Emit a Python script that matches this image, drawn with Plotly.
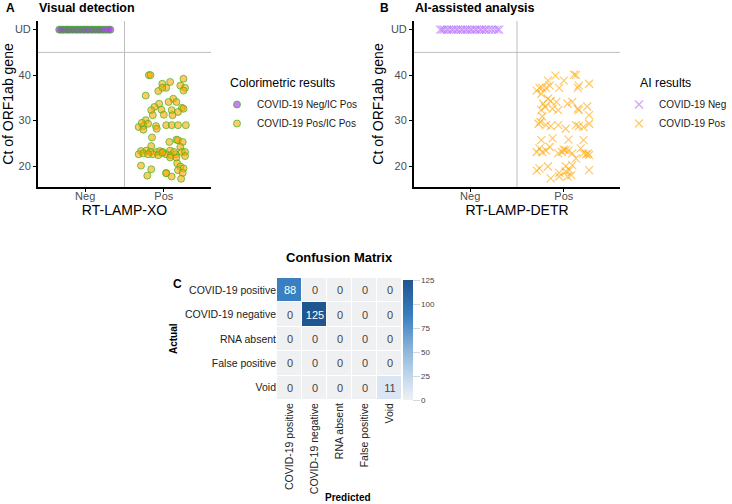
import plotly.graph_objects as go

FONT = "Liberation Sans, Arial, sans-serif"

# ---------------- Data ----------------
x_categories = ["Neg", "Pos"]
y_tick_values = [20, 30, 40, 50]
y_tick_labels = ["20", "30", "40", "UD"]
UD_VALUE = 50
CT_CUTOFF = 45
GROUP_SPLIT = 1.5

# Panel A - visual detection (jittered x, Ct values)
a_neg_x = [0.67, 0.69, 0.71, 0.73, 0.76, 0.78, 0.80, 0.83, 0.85, 0.88, 0.90, 0.93, 0.95,
           0.98, 1.00, 1.03, 1.05, 1.08, 1.10, 1.13, 1.16, 1.18, 1.21, 1.24, 1.27, 1.30, 1.32]
a_neg_y = [UD_VALUE] * len(a_neg_x)
a_pos_x = [1.81, 1.83, 2.25, 2.08, 1.98, 2.03, 1.98, 2.21, 2.27, 2.25, 1.93, 1.77, 2.12, 2.06,
           2.16, 1.94, 1.88, 1.97, 1.84, 2.23, 2.25, 2.10, 2.18, 2.00, 2.11, 1.86, 1.77, 1.68,
           1.74, 1.80, 1.90, 2.03, 2.10, 2.18, 2.28, 1.74, 1.91, 1.85, 2.07, 2.16, 2.18, 2.24,
           1.84, 2.21, 1.71, 1.78, 1.83, 1.91, 1.95, 1.99, 2.08, 1.68, 1.74, 1.86, 2.03, 2.09,
           2.15, 2.23, 2.27, 2.08, 2.16, 2.27, 1.71, 2.17, 2.21, 2.25, 2.18, 1.84, 2.03, 2.03,
           2.24, 1.79, 2.10, 2.22, 1.80, 1.93, 2.13, 1.72, 1.98]
a_pos_y = [40.0, 40.0, 39.2, 38.5, 38.1, 37.2, 37.2, 37.7, 37.2, 36.6, 36.5, 35.5, 34.8, 34.1,
           34.1, 33.7, 33.0, 32.4, 32.3, 32.8, 32.6, 32.3, 31.9, 31.3, 31.2, 31.2, 30.1, 28.6,
           28.8, 29.3, 28.8, 29.0, 29.0, 29.0, 29.0, 28.0, 28.2, 26.3, 25.3, 25.8, 25.7, 25.3,
           24.4, 24.2, 23.3, 23.4, 23.1, 23.1, 23.3, 23.1, 23.4, 22.6, 22.8, 22.6, 22.6, 22.4,
           22.6, 23.1, 23.1, 21.9, 21.9, 22.2, 20.1, 20.6, 19.9, 19.5, 19.1, 19.3, 18.5, 18.4,
           18.5, 17.9, 17.7, 17.2, 22.6, 22.4, 23.1, 29.5, 22.9]

# Panel B - AI-assisted analysis
b_neg_x = [0.68, 0.70, 0.72, 0.75, 0.77, 0.80, 0.82, 0.85, 0.87, 0.90, 0.92, 0.95, 0.97,
           1.00, 1.02, 1.05, 1.07, 1.10, 1.12, 1.15, 1.17, 1.20, 1.23, 1.26, 1.29, 1.31]
b_neg_y = [UD_VALUE] * len(b_neg_x)
b_pos_x = [1.71, 1.74, 1.77, 1.81, 1.83, 1.85, 1.91, 1.95, 2.00, 2.11, 2.13, 2.27, 2.16, 2.15,
           1.76, 1.83, 1.86, 1.92, 2.04, 2.09, 1.78, 1.80, 1.88, 1.94, 2.15, 2.16, 2.25, 1.76,
           1.77, 2.27, 1.75, 1.73, 1.81, 1.86, 1.94, 2.02, 2.13, 2.16, 2.21, 2.27, 1.76, 1.88,
           2.05, 2.21, 1.74, 1.77, 1.71, 1.81, 1.85, 1.94, 1.98, 2.00, 2.02, 2.05, 2.09, 2.18,
           2.21, 2.24, 2.26, 2.27, 2.13, 1.83, 1.74, 1.71, 1.95, 2.02, 2.06, 2.08, 2.04, 2.09,
           1.86, 2.27, 1.95, 2.02]
b_pos_y = [36.6, 37.2, 37.2, 37.2, 38.8, 37.7, 39.9, 37.2, 38.8, 40.1, 40.0, 38.1, 37.7, 37.2,
           35.9, 34.8, 34.3, 34.1, 33.7, 34.1, 33.7, 33.0, 32.6, 32.3, 32.6, 32.3, 33.1, 32.3,
           30.9, 31.2, 29.7, 29.3, 29.0, 28.8, 29.0, 28.2, 29.0, 28.8, 28.6, 29.3, 25.7, 26.1,
           25.8, 25.7, 23.9, 23.1, 23.1, 23.4, 24.2, 22.8, 23.1, 23.6, 23.5, 23.4, 22.8, 23.9,
           22.8, 22.6, 22.8, 22.4, 21.7, 19.9, 19.5, 19.0, 18.5, 18.8, 19.1, 18.0, 17.7, 20.2,
           17.3, 19.1, 17.7, 20.0]

# Panel C - confusion matrix
cm_labels = ["COVID-19 positive", "COVID-19 negative", "RNA absent", "False positive", "Void"]
cm_values = [
    [88, 0, 0, 0, 0],
    [0, 125, 0, 0, 0],
    [0, 0, 0, 0, 0],
    [0, 0, 0, 0, 0],
    [0, 0, 0, 0, 11],
]
cbar_ticks = [0, 25, 50, 75, 100, 125]

# ---------------- Figure ----------------
W, H = 732, 504
def px(x):
    return x / W
def py(y):
    return 1 - y / H

fig = go.Figure()

NEG_A = dict(color="rgba(170,60,240,0.65)", size=7, line=dict(color="rgba(60,180,30,0.7)", width=1))
POS_A = dict(color="rgba(255,165,0,0.6)", size=7, line=dict(color="rgba(60,180,30,0.7)", width=1))

fig.add_trace(go.Scatter(x=a_neg_x, y=a_neg_y, mode="markers", marker=NEG_A,
                         name="COVID-19 Neg/IC Pos", xaxis="x", yaxis="y", legend="legend"))
fig.add_trace(go.Scatter(x=a_pos_x, y=a_pos_y, mode="markers", marker=POS_A,
                         name="COVID-19 Pos/IC Pos", xaxis="x", yaxis="y", legend="legend"))

fig.add_trace(go.Scatter(x=b_neg_x, y=b_neg_y, mode="markers",
                         marker=dict(symbol="x-thin", size=8, line=dict(color="rgba(178,102,255,0.6)", width=1.2)),
                         name="COVID-19 Neg", xaxis="x2", yaxis="y2", legend="legend2"))
fig.add_trace(go.Scatter(x=b_pos_x, y=b_pos_y, mode="markers",
                         marker=dict(symbol="x-thin", size=8, line=dict(color="rgba(255,165,0,0.6)", width=1.2)),
                         name="COVID-19 Pos", xaxis="x2", yaxis="y2", legend="legend2"))

blues = [[0.0, "#eff0f2"], [0.1, "#d8e4f3"], [0.4, "#8fb9dc"], [0.7, "#3a80c0"], [1.0, "#1f5690"]]
fig.add_trace(go.Heatmap(z=cm_values, x=cm_labels, y=cm_labels, colorscale=blues,
                         zmin=0, zmax=125, xgap=1, ygap=1, texttemplate="%{z}",
                         textfont=dict(size=11, family=FONT), showlegend=False,
                         xaxis="x3", yaxis="y3",
                         colorbar=dict(x=px(403), xanchor="left", xpad=0, ypad=0, thickness=10,
                                       lenmode="pixels", len=120, y=py(400), yanchor="bottom",
                                       outlinewidth=0, tickvals=cbar_ticks, ticks="outside", ticklen=7,
                                       tickcolor="#cfd8e3", tickfont=dict(size=8, color="#444", family=FONT))))

axis_common = dict(showgrid=False, zeroline=False, showline=True, linecolor="black", linewidth=2,
                   ticks="outside", ticklen=3, tickcolor="black", tickwidth=1,
                   tickfont=dict(size=11, color="#4d4d4d", family=FONT))

LEG_FONT = dict(size=10, color="#1a1a1a")

fig.update_layout(
    width=W, height=H, margin=dict(l=0, r=0, t=0, b=0, autoexpand=False),
    paper_bgcolor="white", plot_bgcolor="white",
    font=dict(family=FONT, color="black"),
    xaxis=dict(domain=[px(38), px(211)], range=[0.4, 2.6], tickvals=[1, 2], ticktext=x_categories,
               anchor="y", ticklabelstandoff=-5,
               title=dict(text="RT-LAMP-XO", font=dict(size=14), standoff=0), **axis_common),
    yaxis=dict(domain=[py(187), py(21)], range=[15.4, 51.9], tickvals=y_tick_values, ticktext=y_tick_labels,
               anchor="x", title=dict(text="Ct of ORF1ab gene", font=dict(size=14), standoff=4), **axis_common),
    xaxis2=dict(domain=[px(414), px(620)], range=[0.4, 2.6], tickvals=[1, 2], ticktext=x_categories,
                anchor="y2", ticklabelstandoff=-5,
                title=dict(text="RT-LAMP-DETR", font=dict(size=14), standoff=0), **axis_common),
    yaxis2=dict(domain=[py(187), py(21)], range=[15.4, 51.9], tickvals=y_tick_values, ticktext=y_tick_labels,
                anchor="x2", title=dict(text="Ct of ORF1ab gene", font=dict(size=14), standoff=4), **axis_common),
    xaxis3=dict(domain=[px(277), px(402)], anchor="y3", showgrid=False, zeroline=False, ticks="",
                tickangle=-90, tickfont=dict(size=10.5, color="#222")),
    yaxis3=dict(domain=[py(400), py(278)], anchor="x3", showgrid=False, zeroline=False, ticks="",
                autorange="reversed", tickfont=dict(size=10.5, color="#222")),
    legend=dict(x=px(217), y=py(90), xanchor="left", yanchor="top", bgcolor="rgba(0,0,0,0)",
                font=LEG_FONT, tracegroupgap=0),
    legend2=dict(x=1, y=py(90), xanchor="right", yanchor="top", bgcolor="rgba(0,0,0,0)",
                 font=LEG_FONT),
    shapes=[
        dict(type="line", xref="x domain", x0=0, x1=1, yref="y", y0=CT_CUTOFF, y1=CT_CUTOFF,
             line=dict(color="#bdbdbd", width=1), layer="below"),
        dict(type="line", xref="x", x0=GROUP_SPLIT, x1=GROUP_SPLIT, yref="y domain", y0=0, y1=1,
             line=dict(color="#bdbdbd", width=1), layer="below"),
        dict(type="line", xref="x2 domain", x0=0, x1=1, yref="y2", y0=CT_CUTOFF, y1=CT_CUTOFF,
             line=dict(color="#bdbdbd", width=1), layer="below"),
        dict(type="line", xref="x2", x0=GROUP_SPLIT, x1=GROUP_SPLIT, yref="y2 domain", y0=0, y1=1,
             line=dict(color="#bdbdbd", width=1), layer="below"),
    ],
    annotations=[
        dict(text="<b>A</b>", x=px(4), y=py(8), xref="paper", yref="paper", xanchor="left",
             yanchor="middle", showarrow=False, font=dict(size=12)),
        dict(text="<b>Visual detection</b>", x=px(37), y=py(8), xref="paper", yref="paper",
             xanchor="left", yanchor="middle", showarrow=False, font=dict(size=12.5)),
        dict(text="<b>B</b>", x=px(378), y=py(8), xref="paper", yref="paper", xanchor="left",
             yanchor="middle", showarrow=False, font=dict(size=12)),
        dict(text="<b>AI-assisted analysis</b>", x=px(413), y=py(8), xref="paper", yref="paper",
             xanchor="left", yanchor="middle", showarrow=False, font=dict(size=12.5)),
        dict(text="<b>C</b>", x=px(171), y=py(284), xref="paper", yref="paper", xanchor="left",
             yanchor="middle", showarrow=False, font=dict(size=12)),
        dict(text="<b>Confusion Matrix</b>", x=px(339), y=py(257), xref="paper", yref="paper",
             xanchor="center", yanchor="middle", showarrow=False, font=dict(size=13)),
        dict(text="Colorimetric results", x=px(228), y=py(83), xref="paper", yref="paper",
             xanchor="left", yanchor="middle", showarrow=False, font=dict(size=12.3)),
        dict(text="AI results", x=px(638), y=py(83), xref="paper", yref="paper",
             xanchor="left", yanchor="middle", showarrow=False, font=dict(size=12.3)),
        dict(text="<b>Predicted</b>", x=px(348), y=py(497), xref="paper", yref="paper",
             xanchor="center", yanchor="middle", showarrow=False, font=dict(size=10)),
        dict(text="<b>Actual</b>", x=px(173), y=py(339), xref="paper", yref="paper", textangle=-90,
             xanchor="center", yanchor="middle", showarrow=False, font=dict(size=10)),
    ],
)

fig.write_html("out.html", config={"displayModeBar": False},
               post_script="document.body.style.margin='0';")
